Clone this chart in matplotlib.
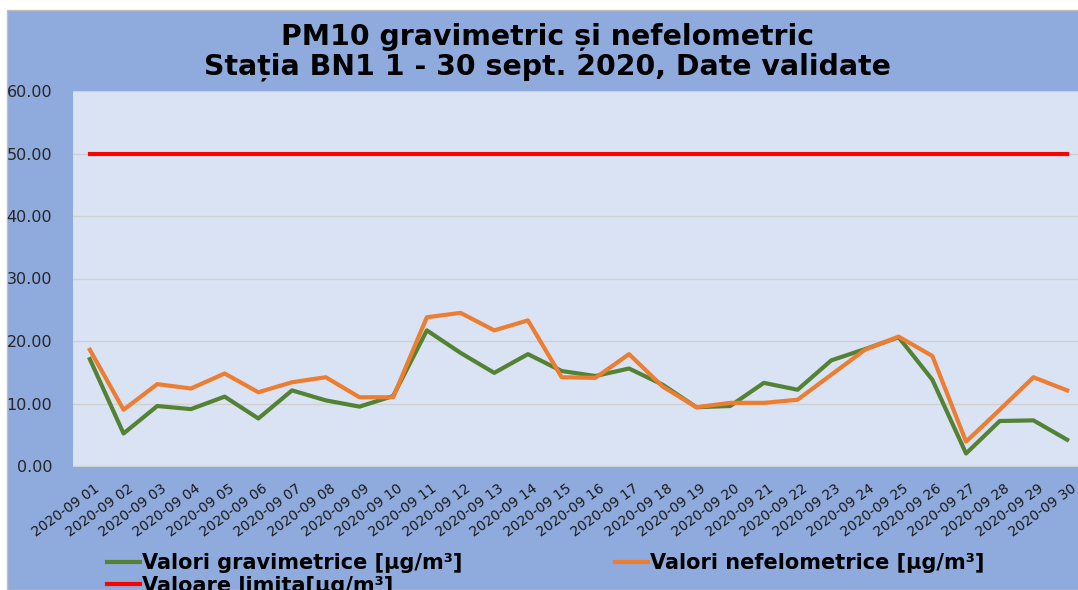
import matplotlib
matplotlib.use("Agg")
import matplotlib.pyplot as plt
import matplotlib.transforms as mtransforms
from matplotlib.patches import Rectangle

dates = [f"2020-09 {d:02d}" for d in range(1, 31)]
grav = [17.1, 5.2, 9.6, 9.1, 11.1, 7.6, 12.1, 10.5, 9.5, 11.2,
        21.7, 18.1, 14.9, 17.9, 15.2, 14.4, 15.6, 13.0, 9.4, 9.6,
        13.3, 12.2, 16.9, 18.7, 20.6, 13.8, 2.0, 7.2, 7.3, 4.2]
nef = [18.6, 9.0, 13.1, 12.4, 14.8, 11.8, 13.4, 14.2, 11.0, 11.0,
       23.8, 24.5, 21.7, 23.3, 14.2, 14.1, 17.9, 12.7, 9.4, 10.1,
       10.1, 10.6, 14.6, 18.6, 20.7, 17.6, 3.9, 9.0, 14.2, 12.1]
limit = [50.0] * 30
yticks = [0, 10, 20, 30, 40, 50, 60]

W, H = 1078, 590
fig = plt.figure(figsize=(W / 100, H / 100), dpi=100)
fig.patch.set_facecolor("white")
fig.add_artist(Rectangle((7 / W, 0), 1.0, 1 - 10 / H, transform=fig.transFigure,
                         facecolor="#8FAADC", edgecolor="#BFBFBF", lw=1, zorder=0))

left, right, top, bottom = 73, 1084, 91, 466
ax = fig.add_axes([left / W, 1 - bottom / H, (right - left) / W, (bottom - top) / H])
ax.set_facecolor("#DAE3F3")
x = list(range(len(dates)))
ax.plot(x, grav, color="#548235", lw=3, label="Valori gravimetrice [μg/m³]", zorder=3)
ax.plot(x, limit, color="#FF0000", lw=3, label="Valoare limita[μg/m³]", zorder=3)
ax.plot(x, nef, color="#ED7D31", lw=3, label="Valori nefelometrice [μg/m³]", zorder=3)
ax.set_xlim(-0.5, len(dates) - 0.5)
ax.set_ylim(0, 60)
ax.set_yticks(yticks)
ax.set_yticklabels([f"{v:.2f}" for v in yticks], fontsize=11.5, color="#262626")
ax.yaxis.grid(True, color="#D0D0D0", lw=1)
ax.set_axisbelow(True)
for s in ["top", "right", "left"]:
    ax.spines[s].set_visible(False)
ax.spines["bottom"].set_color("#D0D0D0")
ax.tick_params(axis="y", length=0, pad=15)
ax.set_xticks(x)
ax.set_xticklabels(dates, rotation=36, ha="right", va="top", rotation_mode="anchor",
                   fontsize=10, color="#1a1a1a")
ax.tick_params(axis="x", length=0, pad=11)
off = mtransforms.ScaledTranslation(4 / 100, 0, fig.dpi_scale_trans)
for lab in ax.get_xticklabels():
    lab.set_transform(lab.get_transform() + off)

fig.text(548 / W, 1 - 45 / H, "PM10 gravimetric și nefelometric", ha="center",
         va="baseline", fontsize=20.4, fontweight="bold", color="black")
fig.text(547 / W, 1 - 74 / H, "Stația BN1 1 - 30 sept. 2020, Date validate", ha="center",
         va="baseline", fontsize=20.4, fontweight="bold", color="black")

handles, labels = ax.get_legend_handles_labels()
leg = fig.legend(handles, labels, ncol=2, loc="upper left",
                 bbox_to_anchor=(107 / W, 1 - 553 / H), bbox_transform=fig.transFigure,
                 frameon=False, prop={"size": 15, "weight": "bold"},
                 handlelength=1.6, handletextpad=0.1, columnspacing=7.3,
                 labelspacing=0.12, borderpad=0, borderaxespad=0)

fig.savefig("out.png", dpi=100, facecolor=fig.get_facecolor())
